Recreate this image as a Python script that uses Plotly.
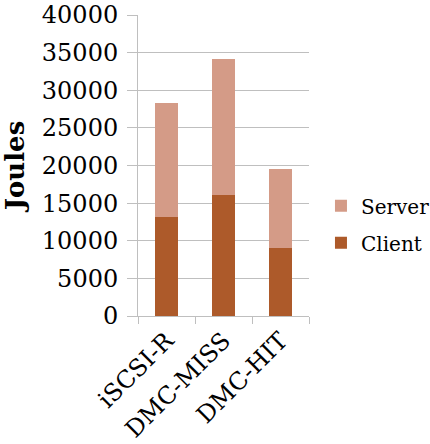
import plotly.graph_objects as go

categories = ["iSCSI-R", "DMC-MISS", "DMC-HIT"]
client = [13100, 16100, 9050]
server = [15200, 18100, 10450]

client_color = "#AD5A2A"
server_color = "#D49B87"
grid_color = "#BFBFBF"
font_family = "DejaVu Serif"

fig = go.Figure()
fig.add_trace(go.Bar(x=categories, y=client, name="Client",
                     legendgroup="client", legendrank=2,
                     marker=dict(color=client_color, line=dict(width=0))))
fig.add_trace(go.Bar(x=categories, y=server, name="Server",
                     legendgroup="server", legendrank=1,
                     marker=dict(color=server_color, line=dict(width=0))))

fig.update_layout(
    width=430, height=444,
    margin=dict(l=138, r=121, t=15, b=128, autoexpand=False),
    barmode="stack",
    bargap=0.61,
    plot_bgcolor="white",
    paper_bgcolor="white",
    font=dict(family=font_family, color="black", size=21),
    showlegend=True,
    legend=dict(
        x=1.07, y=0.305, xanchor="left", yanchor="middle",
        traceorder="grouped",
        font=dict(size=20, family=font_family),
        tracegroupgap=8,
        itemwidth=30,
    ),
    xaxis=dict(
        automargin=False,
        showline=True, linecolor=grid_color, linewidth=1,
        ticks="outside", tickson="boundaries", ticklen=7,
        tickcolor=grid_color,
        tickangle=-45,
        tickfont=dict(size=24, family=font_family),
        showgrid=False,
    ),
    yaxis=dict(
        automargin=False,
        range=[0, 40000], dtick=5000, tickformat="d",
        showgrid=True, gridcolor=grid_color, gridwidth=1,
        showline=True, linecolor=grid_color, linewidth=1,
        ticks="outside", ticklen=10, tickcolor=grid_color,
        tickfont=dict(size=24, family=font_family),
        ticklabelstandoff=4,
        zeroline=False,
        title=dict(text="<b>Joules</b>", font=dict(size=26, family=font_family), standoff=10),
    ),
)

fig.write_html("out.html")
